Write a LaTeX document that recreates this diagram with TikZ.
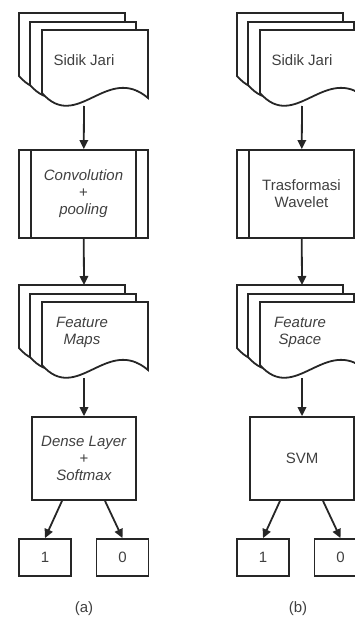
\documentclass[tikz,border=0pt]{standalone}
\usepackage{fontspec}
\setmainfont{Liberation Sans}
\usetikzlibrary{arrows.meta, calc}

\begin{document}
\begin{tikzpicture}[x=1pt, y=-1pt, line width=1.8pt, draw=black!85,
    every node/.style={font=\fontsize{15}{17}\selectfont, text=black!75, align=center},
    procbox/.style={draw, rectangle, minimum width=129, minimum height=88, inner sep=0pt},
    flowbox/.style={draw, rectangle, minimum width=104, minimum height=83, inner sep=0pt},
    outbox/.style={draw, rectangle, minimum width=52, minimum height=37, inner sep=0pt},
    flow/.style={-{Triangle[length=9pt, width=8.5pt]}, line width=1.8pt}]
    \useasboundingbox (0,0) rectangle (355,618);
    \clip (0,0) rectangle (355,618);

    % Stacked pages (multi-document), back to front
    \foreach \cx in {0,218} {
        \foreach \cy in {0,272} {
            \foreach \dx/\dy in {19/13, 30/22, 42/30} {
                \draw[fill=white] (\cx+\dx,\cy+\dy) -- ++(106,0) -- ++(0,68)
                    .. controls ++(-41,-35) and ++(35,40) .. ++(-106,-5) -- cycle;
            }
        }
    }

    % Column (a)
    \node (jariA) at (84,60) {Sidik Jari};
    \coordinate (jariAbot) at (84,106);
    \node[procbox] (convA) at (83.5,194) {\textit{Convolution}\\+\\\textit{pooling}};
    \draw ($(convA.north west)+(13,0)$) -- ($(convA.south west)+(13,0)$);
    \draw ($(convA.north east)+(-13,0)$) -- ($(convA.south east)+(-13,0)$);
    \coordinate (mapsAtop) at (84,285);
    \node (mapsA) at (82,332) {\textit{Feature}\\\textit{Maps}};
    \coordinate (mapsAbot) at (84,378);
    \node[flowbox] (denseA) at (84,458.5) {\textit{Dense Layer}\\+\\\textit{Softmax}};
    \node[outbox] (oneA) at (45,557.5) {1};
    \node[outbox] (zeroA) at (122.5,557.5) {0};
    \node (capA) at (84,609) {(a)};

    \draw[flow] (jariAbot) -- (convA);
    \draw[flow] (convA) -- (mapsAtop);
    \draw[flow] (mapsAbot) -- (denseA);
    \draw[flow] ($(denseA.south)+(-22,0)$) -- (oneA.north);
    \draw[flow] ($(denseA.south)+(21,0)$) -- (zeroA.north);

    % Column (b)
    \node (jariB) at (302,60) {Sidik Jari};
    \coordinate (jariBbot) at (302,106);
    \node[procbox] (wavB) at (301.5,194) {Trasformasi\\Wavelet};
    \draw ($(wavB.north west)+(13,0)$) -- ($(wavB.south west)+(13,0)$);
    \draw ($(wavB.north east)+(-13,0)$) -- ($(wavB.south east)+(-13,0)$);
    \coordinate (spaceBtop) at (302,285);
    \node (spaceB) at (300,332) {\textit{Feature}\\\textit{Space}};
    \coordinate (spaceBbot) at (302,378);
    \node[flowbox] (svmB) at (302,458.5) {SVM};
    \node[outbox] (oneB) at (263,557.5) {1};
    \node[outbox] (zeroB) at (340.5,557.5) {0};
    \node (capB) at (298,609) {(b)};

    \draw[flow] (jariBbot) -- (wavB);
    \draw[flow] (wavB) -- (spaceBtop);
    \draw[flow] (spaceBbot) -- (svmB);
    \draw[flow] ($(svmB.south)+(-22,0)$) -- (oneB.north);
    \draw[flow] ($(svmB.south)+(21,0)$) -- (zeroB.north);
\end{tikzpicture}
\end{document}
